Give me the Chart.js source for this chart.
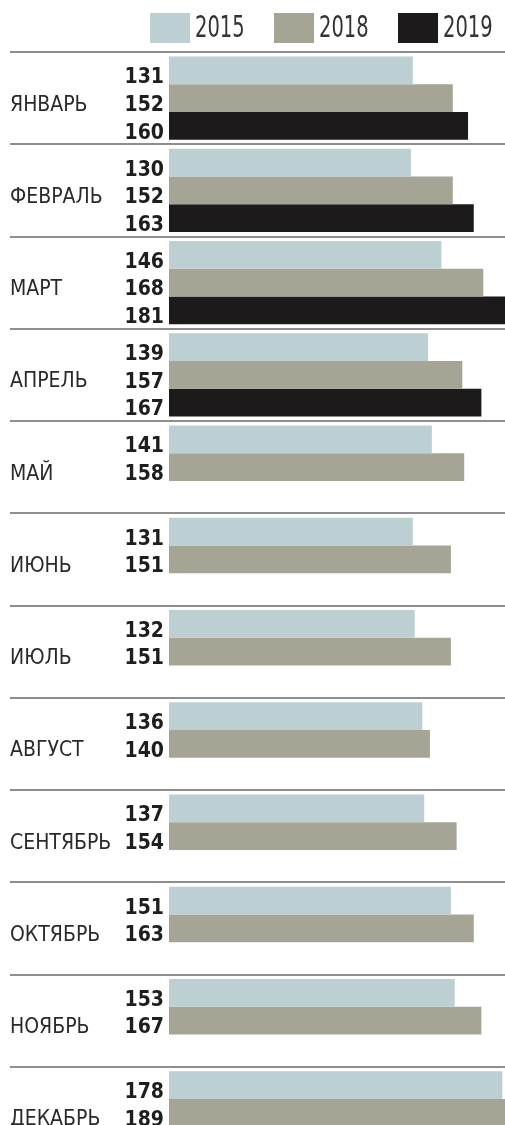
<!DOCTYPE html>
<html>
<head>
<meta charset="utf-8">
<script src="https://cdn.jsdelivr.net/npm/chart.js@4.4.1/dist/chart.umd.min.js"></script>
<style>
  html, body { margin: 0; padding: 0; background: #ffffff; overflow: hidden; }
  #wrap { width: 505px; height: 1172px; position: relative; }
</style>
</head>
<body>
<div id="wrap"><canvas id="c"></canvas></div>
<script>
const months = ['ЯНВАРЬ', 'ФЕВРАЛЬ', 'МАРТ', 'АПРЕЛЬ', 'МАЙ', 'ИЮНЬ', 'ИЮЛЬ', 'АВГУСТ', 'СЕНТЯБРЬ', 'ОКТЯБРЬ', 'НОЯБРЬ', 'ДЕКАБРЬ'];
const years = ['2015', '2018', '2019'];
const values2015 = [131, 130, 146, 139, 141, 131, 132, 136, 137, 151, 153, 178];
const values2018 = [152, 152, 168, 157, 158, 151, 151, 140, 154, 163, 167, 189];
const values2019 = [160, 163, 181, 167, null, null, null, null, null, null, null, null];
const colors = ['#bccfd3', '#a6a494', '#1c1a1b'];

const FONT = '"DejaVu Sans Condensed", "DejaVu Sans", sans-serif';

// numbers written left of each bar
const valueLabels = {
  id: 'valueLabels',
  afterDatasetsDraw(chart) {
    const ctx = chart.ctx;
    ctx.save();
    ctx.font = 'bold 21px ' + FONT;
    ctx.fillStyle = '#1e1e1e';
    ctx.textAlign = 'right';
    ctx.textBaseline = 'alphabetic';
    chart.data.datasets.forEach((ds, di) => {
      const meta = chart.getDatasetMeta(di);
      meta.data.forEach((bar, i) => {
        const v = ds.data[i];
        if (v === null || v === undefined) return;
        const p = bar.getProps(['y', 'height'], true);
        ctx.fillText(String(v), chart.chartArea.left - 5, p.y + p.height / 2 - 1);
      });
    });
    ctx.restore();
  }
};

// legend with condensed text, built from the datasets
const yearLegend = {
  id: 'yearLegend',
  afterDraw(chart) {
    const ctx = chart.ctx;
    const boxW = 40, boxH = 30, pitch = 124, top = 13;
    const x0 = chart.chartArea.right - 355;
    ctx.save();
    chart.data.datasets.forEach((ds, i) => {
      const x = x0 + i * pitch;
      ctx.fillStyle = ds.backgroundColor;
      ctx.fillRect(x, top, boxW, boxH);
      ctx.save();
      ctx.translate(x + boxW + 5, top + boxH - 6);
      ctx.scale(0.7, 1);
      ctx.font = '31px ' + FONT;
      ctx.fillStyle = '#333333';
      ctx.textAlign = 'left';
      ctx.textBaseline = 'alphabetic';
      ctx.fillText(ds.label, 0, 0);
      ctx.restore();
    });
    ctx.restore();
  }
};

new Chart(document.getElementById('c'), {
  type: 'bar',
  data: {
    labels: months,
    datasets: [values2015, values2018, values2019].map((d, i) => ({
      label: years[i],
      data: d,
      backgroundColor: colors[i],
      borderWidth: 0,
      categoryPercentage: 0.9,
      barPercentage: 1.0
    }))
  },
  options: {
    indexAxis: 'y',
    responsive: true,
    maintainAspectRatio: false,
    animation: false,
    layout: { padding: { left: 10, right: 0, top: 52, bottom: 13 } },
    plugins: {
      legend: { display: false },
      tooltip: { enabled: false }
    },
    scales: {
      x: { display: false, min: 3, max: 179.4 },
      y: {
        afterFit(s) { s.width = 159; },
        border: { display: false },
        grid: { offset: true, color: '#8e8e8e', lineWidth: 2, drawTicks: true, tickLength: 159 },
        ticks: {
          crossAlign: 'far',
          labelOffset: 7,
          padding: 0,
          color: '#2a2a2a',
          font: { family: FONT, size: 21 }
        }
      }
    }
  },
  plugins: [valueLabels, yearLegend]
});
</script>
</body>
</html>
